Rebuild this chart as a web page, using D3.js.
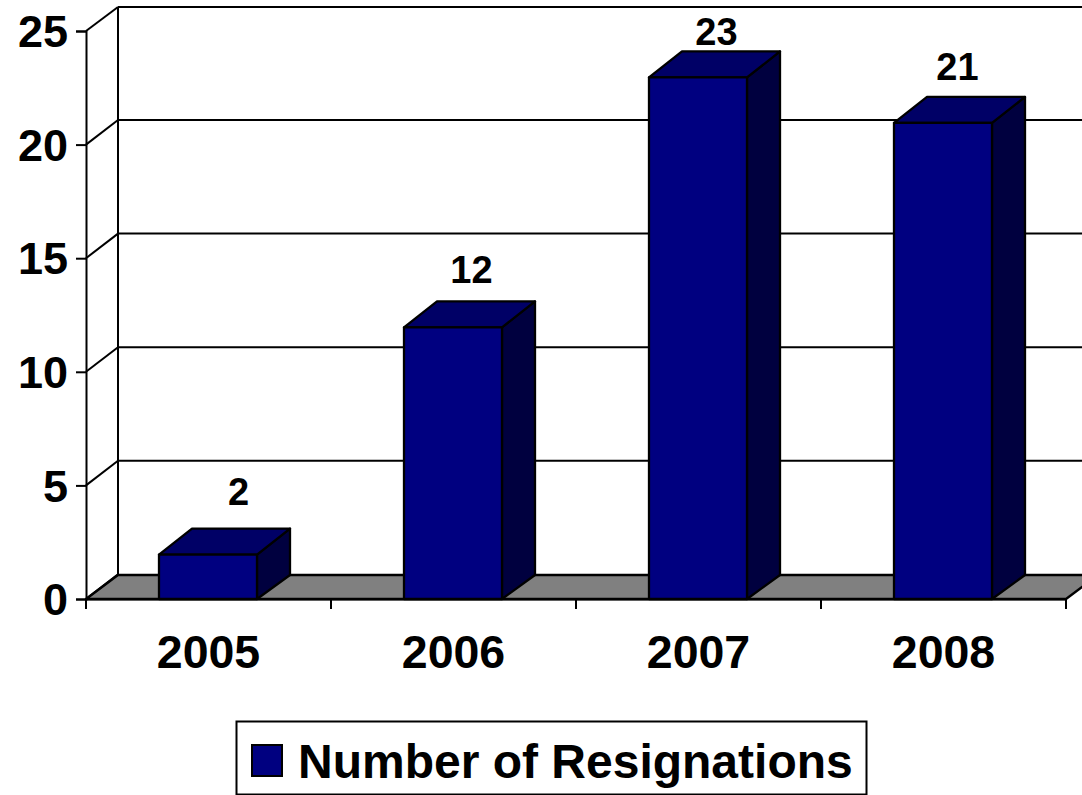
<!DOCTYPE html>
<html><head><meta charset="utf-8">
<script src="https://cdn.jsdelivr.net/npm/d3@7"></script>
<style>
html,body{margin:0;padding:0;background:#fff;overflow:hidden}
svg{display:block}
text{font-family:"Liberation Sans",Arial,sans-serif;font-weight:bold;fill:#000}
</style></head><body>
<svg id="c" width="1082" height="795"></svg>
<script>
const years = ["2005","2006","2007","2008"];
const resignations = [2,12,23,21];
const yTicks = [0,5,10,15,20,25];
const seriesName = "Number of Resignations";

// hand-placed data label nudges (px), as in the reference
const labelNudgeX = [0,-12,-12,-16];
const labelNudgeY = [1,7,19,8];

const colFront="#000080", colTop="#000066", colSide="#00003f", colFloor="#808080", ink="#000";
const dx=32, dy=-24;
const svg=d3.select("#c");
const x=d3.scaleBand().domain(years).range([86,1066]).paddingInner(0.6).paddingOuter(0.3);
const y=d3.scaleLinear().domain([0,25]).range([599,31]);
const poly=(g,pts,fill,sw=2.3)=>g.append("polygon").attr("points",pts.map(p=>p.join(",")).join(" "))
  .attr("fill",fill).attr("stroke",ink).attr("stroke-width",sw).attr("stroke-linejoin","round");

const x0=x.range()[0], x1=x.range()[1];
// floor
poly(svg.append("g"),[[x0,y(0)],[x1,y(0)],[x1+dx,y(0)+dy],[x0+dx,y(0)+dy]],colFloor);
// walls and gridlines
const grid=svg.append("g").attr("stroke",ink).attr("stroke-width",2).attr("fill","none");
yTicks.forEach(t=>{
  const gy = t===25 ? y(t)+dy : y(t)+dy-0.6;
  if(t>0) grid.append("line").attr("x1",x0+dx).attr("x2",x1+dx).attr("y1",gy).attr("y2",gy);
  grid.append("line").attr("x1",x0).attr("x2",x0+dx).attr("y1",y(t)).attr("y2",gy).attr("stroke-width",2);
});
grid.append("line").attr("x1",x0+dx).attr("x2",x0+dx).attr("y1",y(0)+dy).attr("y2",y(25)+dy);

// y axis
const ay=svg.append("g").attr("transform",`translate(${x0},0)`)
  .call(d3.axisLeft(y).tickValues(yTicks).tickSize(10).tickPadding(8));
ay.selectAll(".domain").attr("stroke",ink).attr("stroke-width",2);
ay.selectAll("line").attr("stroke",ink).attr("stroke-width",2);
ay.selectAll("text").attr("font-size",45).attr("fill",ink).attr("dy","0.35em");

// x axis
const ax=svg.append("g").attr("transform",`translate(0,${y(0)})`)
  .call(d3.axisBottom(x).tickSize(0).tickPadding(36));
ax.select(".domain").attr("stroke",ink).attr("stroke-width",2);
ax.selectAll("text").attr("font-size",46.5).attr("fill",ink);
d3.range(years.length+1).forEach(i=>{
  const px=x0+i*x.step();
  ax.append("line").attr("x1",px).attr("x2",px).attr("y1",0).attr("y2",10).attr("stroke",ink).attr("stroke-width",2);
});

// bars
const bars=svg.append("g");
years.forEach((yr,i)=>{
  const v=resignations[i], l=x(yr)-0.5, r=l+x.bandwidth(), t=y(v)+1, b=y(0);
  const bdx=33, tdy=-26;
  const g=bars.append("g");
  poly(g,[[r,b],[r+bdx,b+dy],[r+bdx,t+tdy],[r,t]],colSide);
  poly(g,[[l,t],[r,t],[r+bdx,t+tdy],[l+bdx,t+tdy]],colTop);
  poly(g,[[l,b],[r,b],[r,t],[l,t]],colFront);
  g.append("text").attr("x",l+x.bandwidth()/2+dx-1.5+labelNudgeX[i]).attr("y",y(v)+dy-26+labelNudgeY[i])
    .attr("text-anchor","middle").attr("font-size",38).text(v);
});

// legend
const lg=svg.append("g");
lg.append("rect").attr("x",236.5).attr("y",721.5).attr("width",630).attr("height",73)
  .attr("fill","#fff").attr("stroke",ink).attr("stroke-width",2);
lg.append("rect").attr("x",252).attr("y",745).attr("width",30).attr("height",31)
  .attr("fill",colFront).attr("stroke",ink).attr("stroke-width",2);
lg.append("text").attr("x",298).attr("y",778).attr("font-size",48).text(seriesName);
</script>
</body></html>
